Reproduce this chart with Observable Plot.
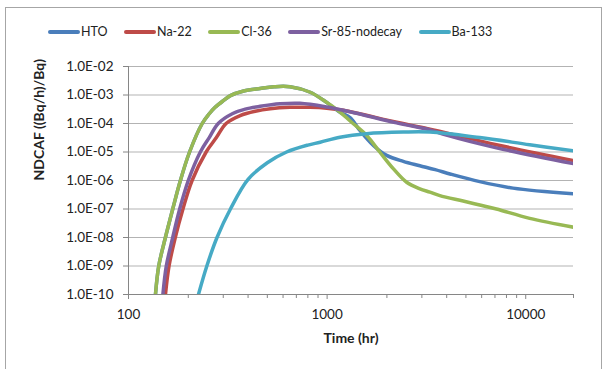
<!DOCTYPE html>
<html>
<head>
<meta charset="utf-8">
<script src="https://cdn.jsdelivr.net/npm/d3@7"></script>
<script src="https://cdn.jsdelivr.net/npm/@observablehq/plot@0.6"></script>
<style>
  html, body { margin: 0; padding: 0; background: #fff; }
  body { width: 608px; height: 369px; position: relative; overflow: hidden; font-family: Lato, "Open Sans", sans-serif; }
  #frame { position: absolute; left: 5px; top: 7px; width: 597px; height: 370px; border: 1px solid #a6a6a6; box-sizing: border-box; pointer-events: none; }
  #legend { position: relative; height: 50px; }
  #legend .items { position: absolute; left: 48px; top: 24px; display: flex; gap: 16.5px; align-items: center; font-size: 12.5px; color: #222; }
  #legend .item { display: flex; align-items: center; }
  #legend .sw { width: 32px; height: 4px; border-radius: 2px; margin-right: 1px; }
  #chart svg { display: block; }
</style>
</head>
<body>
<div id="frame"></div>
<div id="legend"><div class="items"></div></div>
<div id="chart"></div>
<script>
// Series names and colours
const seriesNames = ["HTO", "Na-22", "Cl-36", "Sr-85-nodecay", "Ba-133"];
const seriesColors = ["#4a7ebb", "#be4b48", "#98b954", "#7d60a0", "#46aac5"];

// Time (hr) and NDCAF ((Bq/h)/Bq)
const htoT  = [136.7, 142, 153.4, 167, 182.5, 203, 235, 255, 273, 300, 326, 380, 460, 540, 650, 822, 960, 1161, 1305, 1466, 1710, 1995, 2418, 2931, 3500, 4200, 5870, 8630, 17400];
const htoV  = [1e-10, 1e-9, 1e-8, 1e-7, 1e-6, 1e-5, 1e-4, 2.2e-4, 3.7e-4, 6.3e-4, 9.5e-4, 1.38e-3, 1.7e-3, 1.95e-3, 1.95e-3, 1.25e-3, 6.5e-4, 2.5e-4, 1.6e-4, 5.6e-5, 1.7e-5, 7.6e-6, 4.7e-6, 3.3e-6, 2.4e-6, 1.66e-6, 9.1e-7, 5.4e-7, 3.4e-7];

const naT   = [153.5, 160, 172, 188, 209, 246, 277, 310, 365, 435, 517, 650, 820, 996, 1208, 2240, 3294, 3990, 7120, 17400];
const naV   = [1e-10, 1e-9, 1e-8, 1e-7, 1e-6, 1e-5, 3.2e-5, 1.0e-4, 1.9e-4, 2.7e-4, 3.3e-4, 3.7e-4, 3.7e-4, 3.45e-4, 2.9e-4, 1.1e-4, 6.3e-5, 4.7e-5, 1.8e-5, 5.0e-6];

const clT   = [136.7, 142, 153.4, 167, 182.5, 203, 235, 255, 273, 300, 326, 380, 460, 540, 650, 822, 960, 1161, 1355, 1583, 1845, 2153, 2513, 2931, 3294, 3695, 4840, 5870, 7120, 10470, 17400];
const clV   = [1e-10, 1e-9, 1e-8, 1e-7, 1e-6, 1e-5, 1e-4, 2.2e-4, 3.7e-4, 6.3e-4, 9.5e-4, 1.38e-3, 1.7e-3, 1.95e-3, 1.95e-3, 1.25e-3, 6.5e-4, 2.5e-4, 9.8e-5, 3.8e-5, 9.8e-6, 2.6e-6, 8.7e-7, 5.1e-7, 3.9e-7, 2.95e-7, 1.9e-7, 1.38e-7, 1.0e-7, 4.7e-8, 2.3e-8];

const srT   = [149, 155, 167, 181, 200, 230, 255, 283, 333, 387, 460, 580, 730, 996, 1305, 2240, 3294, 3990, 7120, 17400];
const srV   = [1e-10, 1e-9, 1e-8, 1e-7, 1e-6, 1e-5, 3.2e-5, 1.0e-4, 2.2e-4, 3.2e-4, 4.0e-4, 4.9e-4, 5.1e-4, 3.8e-4, 2.6e-4, 1.05e-4, 6.0e-5, 3.9e-5, 1.4e-5, 3.9e-6];

const baT   = [225, 248, 279, 326, 400, 500, 625, 800, 923, 1161, 1583, 2418, 3294, 5870, 10470, 17400];
const baV   = [1e-10, 1e-9, 1e-8, 1e-7, 1.1e-6, 4.2e-6, 1.0e-5, 1.75e-5, 2.2e-5, 3.3e-5, 4.4e-5, 5.0e-5, 5.0e-5, 3.2e-5, 1.8e-5, 1.1e-5];

// Axes
const xDomain = [100, 17400];
const yDomain = [1e-10, 1e-2];
const xMajorTicks = [100, 1000, 10000];
const xMajorLabels = ["100", "1000", "10000"];
const xMinorTicks = [200, 300, 400, 500, 600, 700, 800, 900, 2000, 3000, 4000, 5000, 6000, 7000, 8000, 9000, 17400];
const yTicks = [1e-10, 1e-9, 1e-8, 1e-7, 1e-6, 1e-5, 1e-4, 1e-3, 1e-2];
const yTickLabels = ["1.0E-10", "1.0E-09", "1.0E-08", "1.0E-07", "1.0E-06", "1.0E-05", "1.0E-04", "1.0E-03", "1.0E-02"];
const xTitle = "Time (hr)";
const yTitle = "NDCAF ((Bq/h)/Bq)";

const seriesT = [htoT, naT, clT, srT, baT];
const seriesV = [htoV, naV, clV, srV, baV];
const data = seriesNames.flatMap((name, i) => seriesT[i].map((t, j) => ({series: name, t, v: seriesV[i][j]})));

// Legend
const items = document.querySelector("#legend .items");
seriesNames.forEach((n, i) => {
  const it = document.createElement("div");
  it.className = "item";
  const sw = document.createElement("span");
  sw.className = "sw";
  sw.style.background = seriesColors[i];
  const tx = document.createElement("span");
  tx.textContent = n;
  it.appendChild(sw); it.appendChild(tx);
  items.appendChild(it);
});

const chart = Plot.plot({
  width: 608,
  height: 319,
  marginLeft: 128,
  marginRight: 35,
  marginTop: 16,
  marginBottom: 75,
  style: {fontFamily: "Lato, 'Open Sans', sans-serif", fontSize: "13.5px", color: "#222", background: "transparent", overflow: "visible"},
  x: {type: "log", domain: xDomain},
  y: {type: "log", domain: yDomain},
  color: {domain: seriesNames, range: seriesColors},
  marks: [
    Plot.ruleY(yTicks, {stroke: "#b3b3b3", strokeWidth: 1}),
    Plot.axisY({ticks: yTicks, tickFormat: d => yTickLabels[yTicks.indexOf(d)], tickSize: 5, tickPadding: 10, stroke: "#868686", fill: "#222", label: null}),
    Plot.axisX({ticks: xMinorTicks, tickSize: 4, tickFormat: () => "", stroke: "#868686", label: null}),
    Plot.axisX({ticks: xMajorTicks, tickSize: 5, tickPadding: 10, tickFormat: d => xMajorLabels[xMajorTicks.indexOf(d)], stroke: "#868686", fill: "#222", label: null}),
    Plot.ruleX([xDomain[0]], {stroke: "#868686"}),
    Plot.ruleY([yDomain[0]], {stroke: "#868686"}),
    Plot.line(data, {x: "t", y: "v", z: "series", stroke: "series", strokeWidth: 3.5, curve: "catmull-rom", clip: true}),
    Plot.text([xTitle], {frameAnchor: "bottom", dy: 48, fontWeight: "bold", fontSize: 14, fill: "#222"}),
    Plot.text([yTitle], {frameAnchor: "left", dx: -89, rotate: -90, fontWeight: "bold", fontSize: 14, fill: "#222"})
  ]
});
document.getElementById("chart").appendChild(chart);
</script>
</body>
</html>
